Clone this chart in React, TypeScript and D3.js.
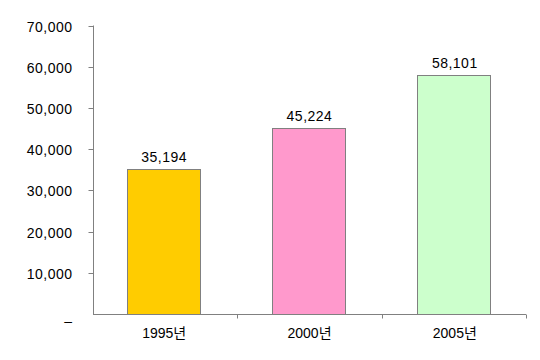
import React, { useEffect, useRef } from "react";
import * as d3 from "d3";

const categories = ["1995년", "2000년", "2005년"];
const values = [35194, 45224, 58101];
const barColors = ["#FFCC00", "#FF99CC", "#CCFFCC"];
const yTicks = [0, 10000, 20000, 30000, 40000, 50000, 60000, 70000];

const W = 540;
const H = 360;
const FONT = "'Liberation Sans', 'Noto Sans CJK KR', sans-serif";

const App = () => {
  const ref = useRef<SVGSVGElement>(null);

  useEffect(() => {
    const svg = d3.select(ref.current);
    svg.selectAll("*").remove();

    const left = 93;
    const right = 526;
    const top = 25.5;
    const bottom = 314;

    const x = d3.scaleBand().domain(categories).range([left, right]).paddingInner(0.5).paddingOuter(0.24);
    const xBoundary = d3.scaleLinear().domain([0, categories.length]).range([left, right]);
    const y = d3.scaleLinear().domain([0, 70000]).range([bottom, top]);
    const fmt = d3.format(",");

    // bars
    svg
      .append("g")
      .selectAll("rect")
      .data(values)
      .join("rect")
      .attr("x", (_, i) => Math.round(x(categories[i])!) - 0.5)
      .attr("y", (d) => Math.round(y(d)) + 0.5)
      .attr("width", Math.round(x.bandwidth()))
      .attr("height", (d) => bottom - Math.round(y(d)))
      .attr("fill", (_, i) => barColors[i])
      .attr("stroke", "#808080")
      .attr("stroke-width", 1);

    // value labels
    svg
      .append("g")
      .selectAll("text")
      .data(values)
      .join("text")
      .attr("x", (_, i) => x(categories[i])! + x.bandwidth() / 2)
      .attr("y", (d) => y(d) - 7)
      .attr("text-anchor", "middle")
      .attr("font-family", FONT)
      .attr("font-size", 14)
      .attr("letter-spacing", 0.5)
      .attr("fill", "#000")
      .text((d) => fmt(d));

    // y axis
    const yAxis = svg.append("g").attr("transform", `translate(${left + 0.5},0)`);
    yAxis.append("line").attr("y1", top).attr("y2", bottom).attr("stroke", "#808080");
    const yt = yAxis.selectAll("g.tick").data(yTicks).join("g").attr("class", "tick")
      .attr("transform", (d) => `translate(0,${Math.round(y(d)) + 0.5})`);
    yt.filter((d) => d > 0).append("line").attr("x1", -5).attr("x2", 0).attr("stroke", "#808080");
    yt.append("text")
      .attr("x", -21)
      .attr("dy", (d) => (d === 0 ? "0.85em" : "0.36em"))
      .attr("text-anchor", "end")
      .attr("font-family", FONT)
      .attr("font-size", 14)
      .attr("letter-spacing", 0.5)
      .attr("fill", "#000")
      .text((d) => (d === 0 ? "–" : fmt(d)));

    // x axis
    const xAxis = svg.append("g").attr("transform", `translate(0,${bottom + 0.5})`);
    xAxis.append("line").attr("x1", left).attr("x2", right).attr("stroke", "#808080");
    xAxis
      .selectAll("line.tick")
      .data(d3.range(1, categories.length + 1))
      .join("line")
      .attr("class", "tick")
      .attr("x1", (d) => Math.round(xBoundary(d)) + 0.5)
      .attr("x2", (d) => Math.round(xBoundary(d)) + 0.5)
      .attr("y1", 0)
      .attr("y2", 4)
      .attr("stroke", "#808080");
    xAxis
      .selectAll("text")
      .data(categories)
      .join("text")
      .attr("x", (d) => x(d)! + x.bandwidth() / 2)
      .attr("y", 23)
      .attr("text-anchor", "middle")
      .attr("font-family", FONT)
      .attr("font-size", 14)
      .attr("fill", "#000")
      .text((d) => d);
  }, []);

  return (
    <svg
      ref={ref}
      width={W}
      height={H}
      style={{ position: "absolute", left: 0, top: 0, background: "#fff" }}
    />
  );
};

export default App;
